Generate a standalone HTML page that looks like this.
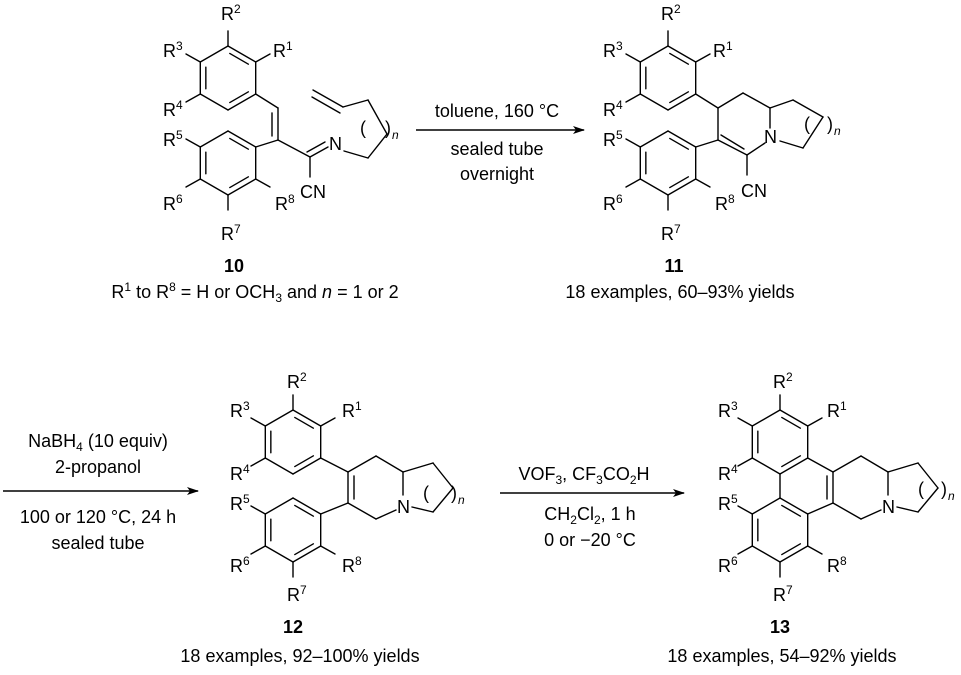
<!DOCTYPE html>
<html><head><meta charset="utf-8"><style>
html,body{margin:0;padding:0;background:#fff;}
svg{display:block;font-family:"Liberation Sans",Arial,sans-serif;}
text{font-size:18px;fill:#000;}
.s{font-size:12px;}
</style></head><body>
<svg id="sv" width="961" height="675" viewBox="0 0 961 675" xmlns="http://www.w3.org/2000/svg">
<defs><marker id="ah" markerWidth="12" markerHeight="8" refX="11" refY="4" orient="auto" markerUnits="userSpaceOnUse"><path d="M0,0 L12,4 L0,8 L3,4 z" fill="#000"/></marker></defs>
<g id="bonds" stroke="#000" stroke-width="1.4" fill="none" stroke-linecap="round"></g>

<line x1="416" y1="130" x2="584" y2="130" stroke="#000" stroke-width="1.4" marker-end="url(#ah)"/>
<line x1="3" y1="491" x2="198" y2="491" stroke="#000" stroke-width="1.4" marker-end="url(#ah)"/>
<line x1="500" y1="493" x2="684" y2="493" stroke="#000" stroke-width="1.4" marker-end="url(#ah)"/>

<text x="497" y="117" text-anchor="middle">toluene, 160 °C</text>
<text x="497" y="155" text-anchor="middle">sealed tube</text>
<text x="497" y="180" text-anchor="middle">overnight</text>

<text x="98" y="447" text-anchor="middle">NaBH<tspan class="s" dy="4">4</tspan><tspan dy="-4"> (10 equiv)</tspan></text>
<text x="98" y="473" text-anchor="middle">2-propanol</text>
<text x="98" y="523" text-anchor="middle">100 or 120 °C, 24 h</text>
<text x="98" y="549" text-anchor="middle">sealed tube</text>

<text x="584" y="480" text-anchor="middle">VOF<tspan class="s" dy="4">3</tspan><tspan dy="-4">, CF</tspan><tspan class="s" dy="4">3</tspan><tspan dy="-4">CO</tspan><tspan class="s" dy="4">2</tspan><tspan dy="-4">H</tspan></text>
<text x="590" y="520" text-anchor="middle">CH<tspan class="s" dy="4">2</tspan><tspan dy="-4">Cl</tspan><tspan class="s" dy="4">2</tspan><tspan dy="-4">, 1 h</tspan></text>
<text x="590" y="546" text-anchor="middle">0 or −20 °C</text>

<text x="234" y="272" text-anchor="middle" font-weight="bold">10</text>
<text x="674" y="272" text-anchor="middle" font-weight="bold">11</text>
<text x="293" y="633" text-anchor="middle" font-weight="bold">12</text>
<text x="780" y="633" text-anchor="middle" font-weight="bold">13</text>

<text x="255" y="298" text-anchor="middle">R<tspan class="s" dy="-7">1</tspan><tspan dy="7"> to R</tspan><tspan class="s" dy="-7">8</tspan><tspan dy="7"> = H or OCH</tspan><tspan class="s" dy="4">3</tspan><tspan dy="-4"> and </tspan><tspan font-style="italic">n</tspan><tspan> = 1 or 2</tspan></text>
<text x="680" y="298" text-anchor="middle">18 examples, 60–93% yields</text>
<text x="300" y="662" text-anchor="middle">18 examples, 92–100% yields</text>
<text x="782" y="662" text-anchor="middle">18 examples, 54–92% yields</text>

<g>
<text x="221" y="20">R<tspan class="s" dy="-7">2</tspan></text>
<text x="273" y="57">R<tspan class="s" dy="-7">1</tspan></text>
<text x="163" y="57">R<tspan class="s" dy="-7">3</tspan></text>
<text x="163" y="116">R<tspan class="s" dy="-7">4</tspan></text>
<text x="163" y="146">R<tspan class="s" dy="-7">5</tspan></text>
<text x="163" y="210">R<tspan class="s" dy="-7">6</tspan></text>
<text x="275" y="210">R<tspan class="s" dy="-7">8</tspan></text>
<text x="221" y="240">R<tspan class="s" dy="-7">7</tspan></text>
<text x="329" y="150">N</text>
<text x="300" y="198">CN</text>
<text x="360" y="134">(</text>
<text x="385" y="134">)</text>
<text x="392" y="139" class="s" font-style="italic">n</text>
</g>
<g>
<text x="661" y="20">R<tspan class="s" dy="-7">2</tspan></text>
<text x="713" y="57">R<tspan class="s" dy="-7">1</tspan></text>
<text x="603" y="57">R<tspan class="s" dy="-7">3</tspan></text>
<text x="603" y="116">R<tspan class="s" dy="-7">4</tspan></text>
<text x="603" y="146">R<tspan class="s" dy="-7">5</tspan></text>
<text x="603" y="210">R<tspan class="s" dy="-7">6</tspan></text>
<text x="715" y="210">R<tspan class="s" dy="-7">8</tspan></text>
<text x="661" y="240">R<tspan class="s" dy="-7">7</tspan></text>
<text x="764" y="143">N</text>
<text x="741" y="197">CN</text>
<text x="804" y="130">(</text>
<text x="827" y="130">)</text>
<text x="834" y="135" class="s" font-style="italic">n</text>
</g>
<g>
<text x="287" y="388">R<tspan class="s" dy="-7">2</tspan></text>
<text x="342" y="417">R<tspan class="s" dy="-7">1</tspan></text>
<text x="230" y="417">R<tspan class="s" dy="-7">3</tspan></text>
<text x="230" y="480">R<tspan class="s" dy="-7">4</tspan></text>
<text x="230" y="510">R<tspan class="s" dy="-7">5</tspan></text>
<text x="230" y="572">R<tspan class="s" dy="-7">6</tspan></text>
<text x="342" y="572">R<tspan class="s" dy="-7">8</tspan></text>
<text x="287" y="601">R<tspan class="s" dy="-7">7</tspan></text>
<text x="397" y="513">N</text>
<text x="423" y="499">(</text>
<text x="451" y="499">)</text>
<text x="458" y="504" class="s" font-style="italic">n</text>
</g>
<g>
<text x="773" y="388">R<tspan class="s" dy="-7">2</tspan></text>
<text x="827" y="417">R<tspan class="s" dy="-7">1</tspan></text>
<text x="718" y="417">R<tspan class="s" dy="-7">3</tspan></text>
<text x="718" y="480">R<tspan class="s" dy="-7">4</tspan></text>
<text x="718" y="510">R<tspan class="s" dy="-7">5</tspan></text>
<text x="718" y="572">R<tspan class="s" dy="-7">6</tspan></text>
<text x="827" y="572">R<tspan class="s" dy="-7">8</tspan></text>
<text x="773" y="601">R<tspan class="s" dy="-7">7</tspan></text>
<text x="882" y="513">N</text>
<text x="918" y="495">(</text>
<text x="941" y="495">)</text>
<text x="948" y="500" class="s" font-style="italic">n</text>
</g>
</svg>
<script>
(function(){
var g=document.getElementById('bonds'),NS='http://www.w3.org/2000/svg';
function L(a,b,c,d){var l=document.createElementNS(NS,'line');l.setAttribute('x1',a);l.setAttribute('y1',b);l.setAttribute('x2',c);l.setAttribute('y2',d);g.appendChild(l);}
function lerp(p,q,t){return [p[0]+(q[0]-p[0])*t,p[1]+(q[1]-p[1])*t];}
function hex(cx,cy){var r=32,h=27.7;
 var P=[[cx,cy-r],[cx+h,cy-r/2],[cx+h,cy+r/2],[cx,cy+r],[cx-h,cy+r/2],[cx-h,cy-r/2]];
 for(var i=0;i<6;i++){var a=P[i],b=P[(i+1)%6];L(a[0],a[1],b[0],b[1]);}
 [[0,1],[2,3],[4,5]].forEach(function(e){var a=lerp(P[e[0]],[cx,cy],0.2),b=lerp(P[e[1]],[cx,cy],0.2);var a2=lerp(a,b,0.08),b2=lerp(a,b,0.92);L(a2[0],a2[1],b2[0],b2[1]);});
 return P;}
function ringSubsTop(cx,cy){L(cx,cy-32,cx,cy-47);L(cx+27.7,cy-16,cx+42,cy-24);L(cx-27.7,cy-16,cx-42,cy-24);L(cx-27.7,cy+16,cx-42,cy+24);}
function ringSubsBot(cx,cy){L(cx,cy+32,cx,cy+47);L(cx+27.7,cy+16,cx+42,cy+24);L(cx-27.7,cy+16,cx-42,cy+24);L(cx-27.7,cy-16,cx-42,cy-24);}
// 10
hex(228,78);hex(228,163);ringSubsTop(228,78);ringSubsBot(228,163);
L(255.7,94,278,108);L(278,108,278,140);L(272,113,272,136);L(278,140,255.7,147);
L(278,140,310,157);L(310,157,328,147);L(307,152,325,142);L(310,157,310,177);
L(344,151,368,158);L(368,158,387,134);L(387,134,368,100);L(368,100,343,107);L(343,107,313,90);L(340,113,312,97);
// 11
hex(668,78);hex(668,163);ringSubsTop(668,78);ringSubsBot(668,163);
L(695.7,94,718,108);L(718,108,743,93);L(743,93,770,108);L(770,108,770,128);L(765,143,747,155);
L(747,155,718,140);L(744,149,721,135);L(718,140,718,108);L(718,140,695.7,147);L(747,155,747,175);
L(770,108,793,100);L(793,100,823,117);L(823,117,803,148);L(803,148,780,141);
// 12
hex(293,442);hex(293,530);ringSubsTop(293,442);ringSubsBot(293,530);
L(320.7,458,348,472);L(348,472,348,503);L(354,476,354,499);L(348,503,320.7,514);
L(348,472,376,456);L(376,456,403,472);L(403,472,403,495);L(396,510,376,519);L(376,519,348,503);
L(403,472,433,463);L(433,463,453,488);L(453,488,433,512);L(433,512,412,507);
// 13
hex(780,442);hex(780,530);ringSubsTop(780,442);ringSubsBot(780,530);
L(780,474,780,498);
L(807.7,458,833,472);L(833,472,833,503);L(827,476,827,499);L(833,503,807.7,514);
L(833,472,861,456);L(861,456,888,472);L(888,472,888,495);L(881,510,861,519);L(861,519,833,503);
L(888,472,918,463);L(918,463,938,488);L(938,488,918,512);L(918,512,897,507);
})();
</script>
</body></html>
